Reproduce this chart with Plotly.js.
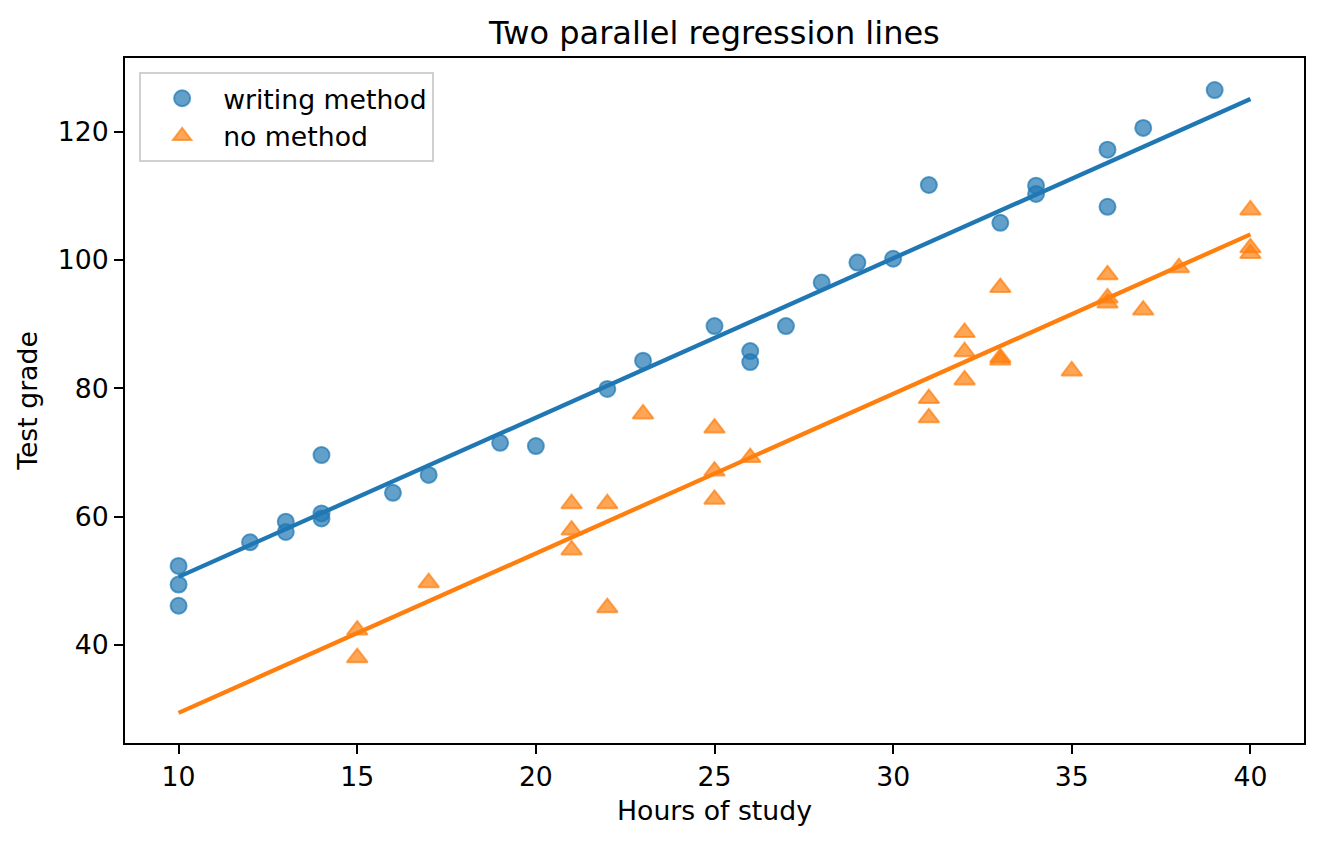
<!DOCTYPE html>
<html>
<head>
<meta charset="utf-8">
<script src="https://cdn.plot.ly/plotly-3.0.1.min.js"></script>
<style>
  html, body { margin: 0; padding: 0; background: #fff; }
  #plot { width: 1324px; height: 844px; }
</style>
</head>
<body>
<div id="plot"></div>
<script>
// writing method (blue circles)
var writingHours = [10, 10, 10, 12, 13, 13, 14, 14, 14, 16, 17, 19, 20, 22, 23, 25, 26, 26, 27, 28,
                    29, 30, 31, 33, 34, 34, 36, 36, 37, 39];
var writingGrade = [52.3, 49.4, 46.1, 56.0, 59.2, 57.6, 69.6, 60.5, 59.7, 63.7, 66.5, 71.5, 71.0, 79.9, 84.3, 89.7, 85.8, 84.1, 89.7, 96.5,
                    99.6, 100.2, 111.7, 105.8, 111.6, 110.3, 117.2, 108.3, 120.6, 126.5];

// no method (orange triangles)
var noHours = [15, 15, 17, 21, 21, 21, 22, 22, 23, 25, 25, 25, 26, 31, 31, 32, 32, 32, 33, 33,
               33, 35, 36, 36, 36, 37, 38, 40, 40, 40];
var noGrade = [42.3, 38.0, 49.7, 62.0, 57.9, 54.8, 62.0, 45.8, 76.0, 73.8, 67.1, 62.7, 69.2, 78.4, 75.4, 88.7, 85.7, 81.3, 95.7, 84.8,
               84.4, 82.7, 97.7, 94.1, 93.3, 92.2, 98.8, 107.8, 101.9, 101.0];

// fitted lines, end points
var lineHours = [10, 40];
var writingFit = [50.6, 125.1];
var noFit = [29.4, 104.0];

var xTicks = [10, 15, 20, 25, 30, 35, 40];
var yTicks = [40, 60, 80, 100, 120];

var blue = "#1f77b4";
var orange = "#ff7f0e";
var font = "DejaVu Sans, Liberation Sans, sans-serif";

var data = [
    {x: writingHours, y: writingGrade,
     type: "scatter", mode: "markers", name: "writing method",
     marker: {symbol: "circle", size: 16, color: "rgba(31,119,180,0.7)",
              line: {color: "rgba(31,119,180,0.7)", width: 2}}},
    {x: noHours, y: noGrade,
     type: "scatter", mode: "markers", name: "no method",
     marker: {symbol: "triangle-up", size: 18, color: "rgba(255,127,14,0.7)",
              line: {color: "rgba(255,127,14,0.7)", width: 2}}},
    {x: lineHours, y: writingFit, type: "scatter", mode: "lines",
     line: {color: blue, width: 4.3}, showlegend: false, hoverinfo: "skip"},
    {x: lineHours, y: noFit, type: "scatter", mode: "lines",
     line: {color: orange, width: 4.3}, showlegend: false, hoverinfo: "skip"}
];

var axisStyle = {
    showline: true, mirror: true, linecolor: "black", linewidth: 2,
    showgrid: false, zeroline: false,
    ticks: "outside", ticklen: 9, tickwidth: 2, tickcolor: "black",
    tickfont: {family: font, size: 26.7, color: "black"}
};

var layout = {
    width: 1324, height: 844,
    margin: {l: 125, r: 20, t: 58, b: 101},
    paper_bgcolor: "white", plot_bgcolor: "white",
    font: {family: font, color: "black"},
    title: {text: "Two parallel regression lines",
            font: {family: font, size: 32, color: "black"},
            x: 0.5396, xanchor: "center", yref: "container", y: 0.961, yanchor: "middle"},
    xaxis: Object.assign({}, axisStyle, {
        range: [8.5, 41.5], tickvals: xTicks,
        title: {text: "Hours of study", font: {family: font, size: 26.7, color: "black"}, standoff: 10}
    }),
    yaxis: Object.assign({}, axisStyle, {
        range: [24.7, 131.5], tickvals: yTicks,
        title: {text: "Test grade", font: {family: font, size: 26.7, color: "black"}, standoff: 12}
    }),
    legend: {x: 0.012, y: 0.979, xanchor: "left", yanchor: "top",
             bgcolor: "rgba(255,255,255,0.8)", bordercolor: "#d0d0d0", borderwidth: 2,
             font: {family: font, size: 26.7, color: "black"}, itemwidth: 72},
    showlegend: true
};

Plotly.newPlot("plot", data, layout, {staticPlot: true});
</script>
</body>
</html>
